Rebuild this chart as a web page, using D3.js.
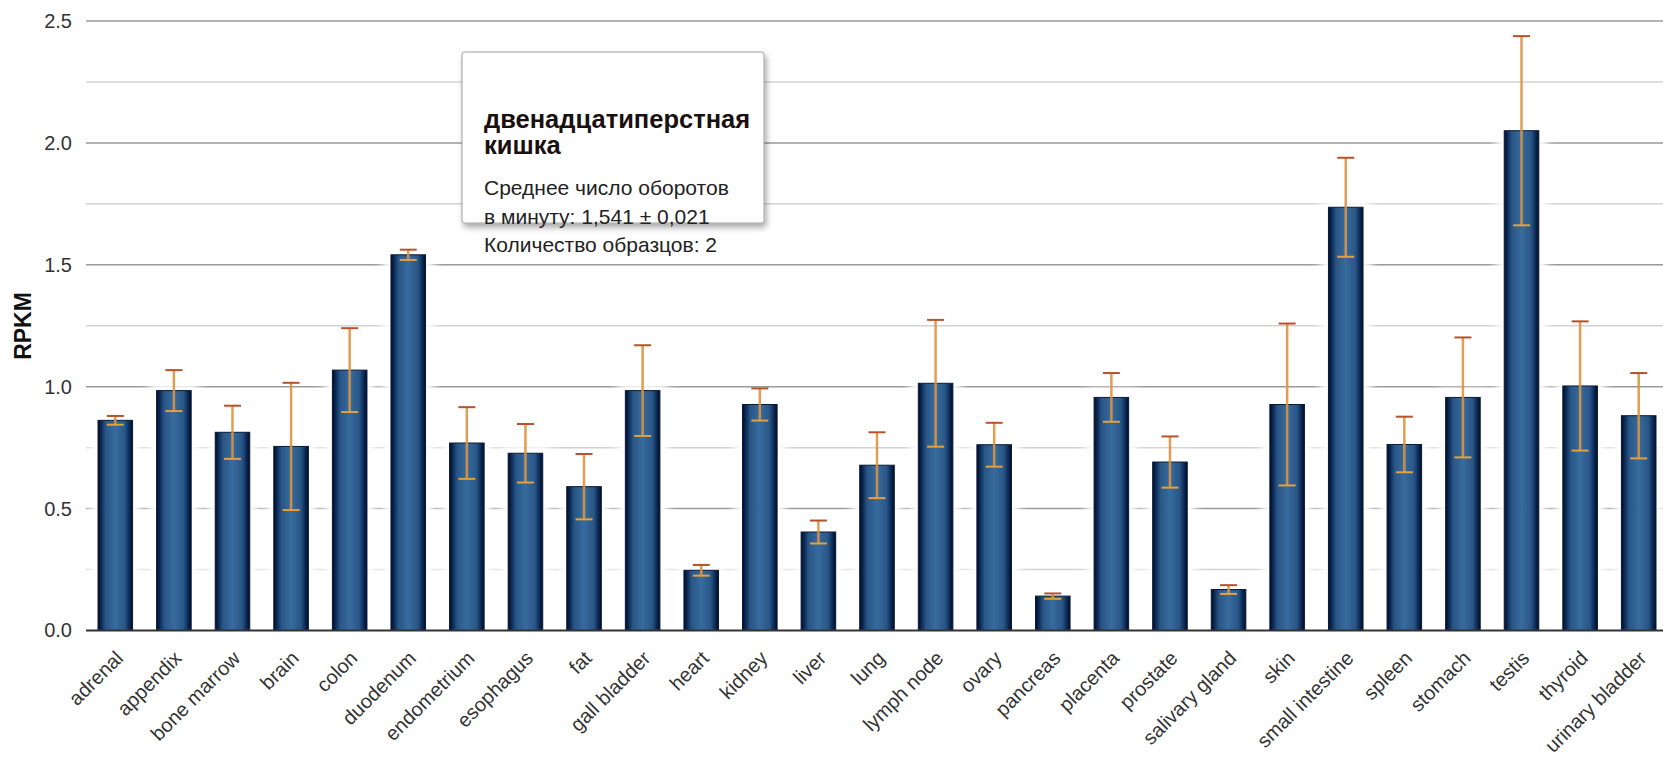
<!DOCTYPE html>
<html lang="ru">
<head>
    <meta charset="UTF-8"/>
    <title>RPKM by tissue</title>
    <script src="https://d3js.org/d3.v7.min.js"></script>
    <style>
        body, html {
            margin: 0;
            padding: 0;
            background: #fff;
            overflow: hidden;
        }
        svg {
            display: block;
            font-family: "Liberation Sans", Arial, sans-serif;
        }
    </style>
</head>
<body>
<svg id="chart" width="1663" height="759"></svg>
<script>
    const categories = ["adrenal", "appendix", "bone marrow", "brain", "colon", "duodenum", "endometrium",
        "esophagus", "fat", "gall bladder", "heart", "kidney", "liver", "lung", "lymph node", "ovary",
        "pancreas", "placenta", "prostate", "salivary gland", "skin", "small intestine", "spleen",
        "stomach", "testis", "thyroid", "urinary bladder"];
    const values = [0.862, 0.984, 0.813, 0.755, 1.068, 1.541, 0.769, 0.727, 0.590, 0.984, 0.247, 0.927,
        0.404, 0.678, 1.014, 0.762, 0.141, 0.956, 0.691, 0.168, 0.927, 1.736, 0.763, 0.956, 2.050, 1.003, 0.881];
    const errors = [0.018, 0.084, 0.109, 0.261, 0.172, 0.021, 0.147, 0.120, 0.134, 0.186, 0.022, 0.066,
        0.047, 0.135, 0.260, 0.090, 0.011, 0.100, 0.105, 0.018, 0.332, 0.203, 0.114, 0.246, 0.388, 0.265, 0.175];
    const yTicks = [0, 0.5, 1.0, 1.5, 2.0, 2.5];
    const yMinorTicks = [0.25, 0.75, 1.25, 1.75, 2.25];

    const tooltipIndex = 5;
    const tooltipTitle = ["двенадцатиперстная", "кишка"];
    const tooltipSamples = 2;

    const svg = d3.select("#chart");
    const width = 1663;

    const x = d3.scaleBand()
        .domain(categories)
        .range([86, 1668])
        .paddingInner(0.41)
        .paddingOuter(0.205);
    const y = d3.scaleLinear().domain([0, 2.5]).range([630.5, 21]);

    const defs = svg.append("defs");
    const grad = defs.append("linearGradient").attr("id", "barGrad")
        .attr("x1", "0%").attr("x2", "100%").attr("y1", "0%").attr("y2", "0%");
    [["0%", "#000c28"], ["8%", "#0a2550"], ["22%", "#285686"], ["50%", "#386b9e"],
        ["78%", "#285686"], ["92%", "#0a2550"], ["100%", "#000c28"]]
        .forEach(([o, c]) => grad.append("stop").attr("offset", o).attr("stop-color", c));

    defs.append("filter").attr("id", "glow").attr("x", "-50%").attr("y", "-50%")
        .attr("width", "200%").attr("height", "200%")
        .append("feGaussianBlur").attr("stdDeviation", 5);

    const shadow = defs.append("filter").attr("id", "shadow").attr("x", "-10%").attr("y", "-10%")
        .attr("width", "130%").attr("height", "130%");
    shadow.append("feGaussianBlur").attr("in", "SourceAlpha").attr("stdDeviation", 3);
    shadow.append("feOffset").attr("dx", 2).attr("dy", 4).attr("result", "b");
    shadow.append("feComponentTransfer").append("feFuncA").attr("type", "linear").attr("slope", 0.35);
    const merge = shadow.append("feMerge");
    merge.append("feMergeNode");
    merge.append("feMergeNode").attr("in", "SourceGraphic");

    // gridlines
    svg.append("g").selectAll("line.minor")
        .data(yMinorTicks).join("line")
        .attr("x1", 86).attr("x2", width)
        .attr("y1", d => y(d)).attr("y2", d => y(d))
        .attr("stroke", "#d2d2d2").attr("stroke-width", 1.5);
    svg.append("g").selectAll("line.major")
        .data(yTicks.filter(d => d > 0)).join("line")
        .attr("x1", 86).attr("x2", width)
        .attr("y1", d => y(d)).attr("y2", d => y(d))
        .attr("stroke", "#999").attr("stroke-width", 1.5);

    // white halo around bars
    svg.append("g").selectAll("rect")
        .data(values).join("rect")
        .attr("x", (d, i) => x(categories[i]) - 8)
        .attr("y", d => y(d) - 8)
        .attr("width", x.bandwidth() + 16)
        .attr("height", d => y(0) - y(d) + 8)
        .attr("fill", "#fff")
        .attr("filter", "url(#glow)");

    // bars
    svg.append("g").selectAll("rect")
        .data(values).join("rect")
        .attr("x", (d, i) => x(categories[i]))
        .attr("y", d => y(d))
        .attr("width", x.bandwidth())
        .attr("height", d => y(0) - y(d))
        .attr("fill", "url(#barGrad)")
        .attr("stroke", "#0a1a36")
        .attr("stroke-width", 1);

    // x axis line
    svg.append("line")
        .attr("x1", 86).attr("x2", width)
        .attr("y1", y(0)).attr("y2", y(0))
        .attr("stroke", "#333").attr("stroke-width", 2);

    // error bars
    const eb = svg.append("g").selectAll("g")
        .data(values).join("g")
        .attr("transform", (d, i) => `translate(${x(categories[i]) + x.bandwidth() / 2},0)`);
    eb.append("line")
        .attr("y1", (d, i) => y(d + errors[i]))
        .attr("y2", (d, i) => y(d - errors[i]))
        .attr("stroke", "#dc9440").attr("stroke-width", 2.5).attr("opacity", 0.9);
    eb.append("line")
        .attr("x1", -8.5).attr("x2", 8.5)
        .attr("y1", (d, i) => y(d + errors[i]))
        .attr("y2", (d, i) => y(d + errors[i]))
        .attr("stroke", "#b8502a").attr("stroke-width", 2);
    eb.append("line")
        .attr("x1", -8.5).attr("x2", 8.5)
        .attr("y1", (d, i) => y(d - errors[i]))
        .attr("y2", (d, i) => y(d - errors[i]))
        .attr("stroke", "#e6a03c").attr("stroke-width", 2);

    // y axis labels
    const yAxis = svg.append("g")
        .attr("transform", "translate(86,0)")
        .call(d3.axisLeft(y).tickValues(yTicks).tickFormat(d3.format(".1f")).tickSize(0).tickPadding(14));
    yAxis.select(".domain").remove();
    yAxis.selectAll("text")
        .attr("font-size", 20).attr("fill", "#333")
        .attr("font-family", "'Liberation Sans', Arial, sans-serif");

    svg.append("text")
        .attr("transform", "translate(31,326) rotate(-90)")
        .attr("text-anchor", "middle")
        .attr("font-size", 23).attr("font-weight", "bold").attr("fill", "#111")
        .text("RPKM");

    // x axis labels
    const xAxis = svg.append("g")
        .attr("transform", `translate(0,${y(0)})`)
        .call(d3.axisBottom(x).tickSize(0).tickPadding(0));
    xAxis.select(".domain").remove();
    xAxis.selectAll("text")
        .attr("font-size", 20).attr("fill", "#333")
        .attr("font-family", "'Liberation Sans', Arial, sans-serif")
        .attr("text-anchor", "end")
        .attr("dy", 0)
        .attr("transform", "translate(9,29) rotate(-45)");

    // tooltip
    const fmt = v => d3.format(".3f")(v).replace(".", ",");
    const tip = svg.append("g").attr("transform", "translate(462,52)");
    tip.append("rect")
        .attr("width", 302).attr("height", 171).attr("rx", 2)
        .attr("fill", "#fff").attr("stroke", "#a0a0a0").attr("stroke-width", 1)
        .attr("filter", "url(#shadow)");
    tip.selectAll("text.t")
        .data(tooltipTitle).join("text")
        .attr("x", 22).attr("y", (d, i) => 76 + i * 26)
        .attr("font-size", 25.5).attr("font-weight", "bold").attr("fill", "#1a1010")
        .text(d => d);
    const lines = [
        "Среднее число оборотов",
        `в минуту: ${fmt(values[tooltipIndex])} ± ${fmt(errors[tooltipIndex])}`,
        `Количество образцов: ${tooltipSamples}`
    ];
    tip.selectAll("text.l")
        .data(lines).join("text")
        .attr("x", 22).attr("y", (d, i) => 143 + i * 28.5)
        .attr("font-size", 21).attr("fill", "#222")
        .text(d => d);
</script>
</body>
</html>
